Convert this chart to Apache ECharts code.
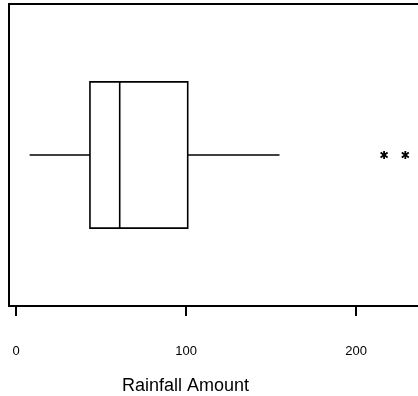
<!DOCTYPE html>
<html><head><meta charset="utf-8">
<script src="https://cdn.jsdelivr.net/npm/echarts@6/dist/echarts.min.js"></script>
<style>html,body{margin:0;padding:0;background:#fff}#c{width:418px;height:396px}</style>
</head><body><div id="c"></div>
<script>
const categories = ['Rainfall'];
// [low whisker, Q1, median, Q3, high whisker]
const boxStats = [[8, 43.5, 61, 101, 155]];
const outliers = [216.5, 229];
const tickValues = [0, 100, 200];
const axisTitle = 'Rainfall Amount';

const chart = echarts.init(document.getElementById('c'), null, {renderer: 'canvas'});
const FONT = '"Liberation Sans", Arial, sans-serif';

chart.setOption({
  animation: false,
  backgroundColor: '#fff',
  title: {
    text: axisTitle, left: 117, top: 372,
    textStyle: {fontFamily: FONT, fontSize: 18, fontWeight: 'normal', color: '#000'}
  },
  grid: {left: 9, top: 4, width: 414, height: 302, outerBoundsMode: 'none', containLabel: false,
         show: true, borderColor: '#000', borderWidth: 2, backgroundColor: 'transparent'},
  xAxis: {
    type: 'value', min: -4.12, max: 239.4,
    splitLine: {show: false},
    axisLine: {show: false},
    axisTick: {show: true, customValues: tickValues, length: 10, lineStyle: {color: '#000', width: 2}},
    axisLabel: {show: true, customValues: tickValues, margin: 39, fontFamily: FONT, fontSize: 13, color: '#000'}
  },
  yAxis: {
    type: 'category', data: categories, show: false
  },
  series: [
    {
      type: 'custom',
      data: boxStats.map((s, i) => [i].concat(s)),
      renderItem: function (params, api) {
        const c = api.value(0);
        const lo = api.coord([api.value(1), c]);
        const q1 = api.coord([api.value(2), c]);
        const md = api.coord([api.value(3), c]);
        const q3 = api.coord([api.value(4), c]);
        const hi = api.coord([api.value(5), c]);
        const h = api.size([0, 1])[1] * 0.242;
        const y = q1[1];
        const st = {stroke: '#000', lineWidth: 1.6, fill: null};
        return {type: 'group', children: [
          {type: 'line', shape: {x1: lo[0], y1: y, x2: q1[0], y2: y}, style: st},
          {type: 'line', shape: {x1: q3[0], y1: y, x2: hi[0], y2: y}, style: st},
          {type: 'rect', shape: {x: q1[0], y: y - h, width: q3[0] - q1[0], height: 2 * h}, style: {stroke: '#000', lineWidth: 1.6, fill: 'none'}},
          {type: 'line', shape: {x1: md[0], y1: y - h, x2: md[0], y2: y + h}, style: st}
        ]};
      }
    },
    {
      type: 'custom',
      data: outliers.map(v => [v, 0]),
      renderItem: function (params, api) {
        const p = api.coord([api.value(0), api.value(1)]);
        const x = p[0], y = p[1];
        const st = {stroke: '#000', lineWidth: 1.8};
        return {type: 'group', children: [
          {type: 'line', shape: {x1: x, y1: y - 4, x2: x, y2: y + 4}, style: st},
          {type: 'line', shape: {x1: x - 3.5, y1: y - 2.5, x2: x + 3.5, y2: y + 2.5}, style: st},
          {type: 'line', shape: {x1: x - 3.5, y1: y + 2.5, x2: x + 3.5, y2: y - 2.5}, style: st}
        ]};
      }
    }
  ]
});
</script>
</body></html>
